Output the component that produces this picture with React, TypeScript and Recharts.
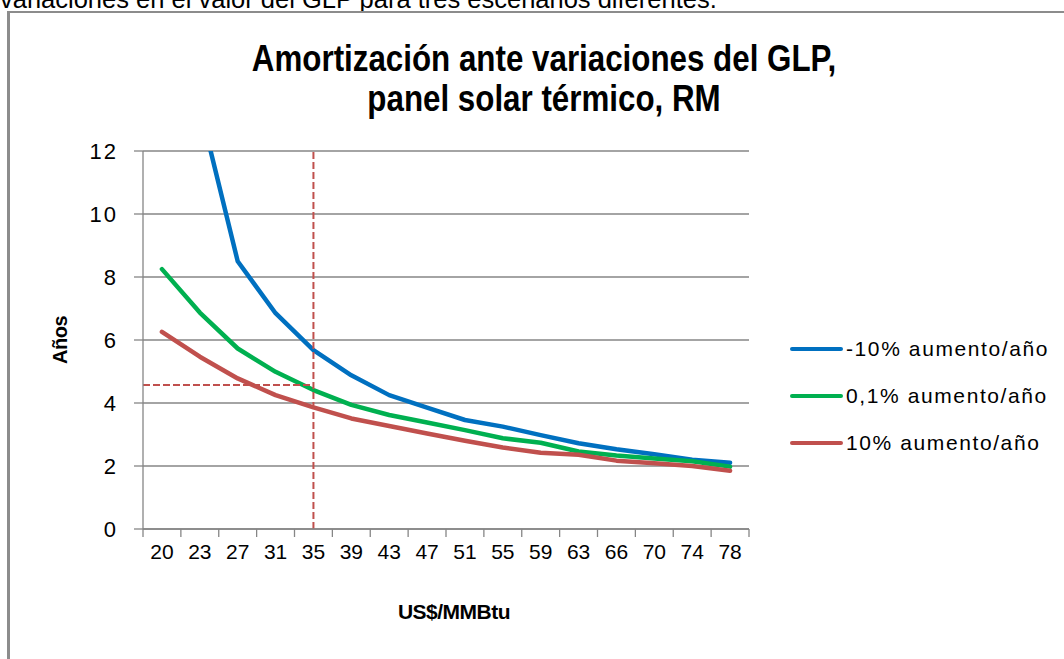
import React from 'react';
import { LineChart, Line, CartesianGrid, XAxis, YAxis, ReferenceLine, Legend } from 'recharts';

// gas price categories (US$/MMBtu)
const prices = ['20', '23', '27', '31', '35', '39', '43', '47', '51', '55', '59', '63', '66', '70', '74', '78'];
// payback years per scenario
const minus10 = [22, 13.4, 8.5, 6.85, 5.68, 4.88, 4.25, 3.85, 3.46, 3.25, 2.98, 2.72, 2.53, 2.37, 2.2, 2.1];
const plus01 = [8.25, 6.87, 5.73, 4.99, 4.41, 3.94, 3.62, 3.38, 3.14, 2.88, 2.74, 2.46, 2.33, 2.24, 2.15, 1.98];
const plus10 = [6.26, 5.47, 4.78, 4.25, 3.86, 3.51, 3.27, 3.03, 2.8, 2.59, 2.42, 2.36, 2.17, 2.09, 2.0, 1.85];
const yTicks = [0, 2, 4, 6, 8, 10, 12];
// dashed guide: price 35 -> 4.57 years
const markPrice = '35';
const markYears = 4.57;

const series = [
  { key: 'minus10', name: '-10% aumento/año', color: '#0070c0' },
  { key: 'plus01', name: '0,1% aumento/año', color: '#00b050' },
  { key: 'plus10', name: '10% aumento/año', color: '#c0504d' },
];

const data = prices.map((p, i) => ({
  price: p,
  idx: i + 0.5,
  minus10: minus10[i],
  plus01: plus01[i],
  plus10: plus10[i],
}));

const bounds = prices.map((_, i) => i).concat(prices.length);
const markIdx = prices.indexOf(markPrice) + 0.5;

const regular = "'Liberation Sans', Arial, sans-serif";
const gray = '#868686';

function LegendBox() {
  return (
    <div>
      {series.map(s => (
        <div key={s.key} style={{ display: 'flex', alignItems: 'center', height: 47 }}>
          <span style={{ display: 'inline-block', width: 53, height: 4, borderRadius: 2, background: s.color }} />
          <span style={{ marginLeft: 3, fontFamily: regular, fontSize: 21, letterSpacing: 1.6, color: '#000' }}>{s.name}</span>
        </div>
      ))}
    </div>
  );
}

export default function App() {
  return (
    <div style={{ position: 'fixed', left: 0, top: 0, width: 1064, height: 659, overflow: 'hidden', background: '#fff' }}>
      <div style={{ position: 'absolute', left: 0, top: -15, fontFamily: regular, fontSize: 25.5, whiteSpace: 'nowrap', lineHeight: '29px' }}>
        variaciones en el valor del GLP  para tres escenarios diferentes.
      </div>
      <div style={{ position: 'absolute', left: 7, top: 11, width: 1100, height: 700, borderLeft: '3px solid #8c8c8c', borderTop: '2px solid #8c8c8c' }} />
      <div style={{ position: 'absolute', left: 0, width: 1088, top: 39, textAlign: 'center', fontFamily: regular, fontWeight: 'bold', fontSize: 36, lineHeight: '40px', transform: 'scaleX(0.87)', transformOrigin: '544px 0' }}>
        Amortización ante variaciones del GLP,<br />panel solar térmico, RM
      </div>
      <div style={{ position: 'absolute', left: 0, top: 0 }}>
        <LineChart width={1064} height={659} data={data} margin={{ top: 151, right: 315, bottom: 35, left: 40 }}>
          <CartesianGrid xAxisId="bounds" vertical={false} stroke={gray} strokeWidth={1.3} />
          <XAxis xAxisId="bounds" type="number" dataKey="idx" domain={[0, prices.length]} ticks={bounds} allowDataOverflow
            tickFormatter={() => ''} tickSize={8} height={1}
            axisLine={{ stroke: gray, strokeWidth: 1.3 }} tickLine={{ stroke: gray, strokeWidth: 1.3 }} />
          <XAxis xAxisId="cat" dataKey="price" scale="band" height={94} tickLine={false} tickSize={7} tickMargin={7}
            axisLine={false}
            tick={{ fill: '#000', fontFamily: regular, fontSize: 21 }}
            label={{ value: 'US$/MMBtu', position: 'insideBottom', offset: 5, dx: 8, fill: '#000', fontFamily: regular, fontWeight: 'bold', fontSize: 21, letterSpacing: -0.5 }} />
          <YAxis type="number" domain={[0, 12]} ticks={yTicks} allowDataOverflow width={103}
            tickSize={9} tickMargin={16}
            axisLine={{ stroke: gray, strokeWidth: 1.3 }} tickLine={{ stroke: gray, strokeWidth: 1.3 }}
            tick={{ fill: '#000', fontFamily: regular, fontSize: 22, letterSpacing: 2 }}
            label={{ value: 'Años', angle: -90, position: 'insideLeft', offset: 20, fill: '#000', fontFamily: regular, fontWeight: 'bold', fontSize: 20, letterSpacing: -0.5, style: { textAnchor: 'middle' } }} />
          {series.map(s => (
            <Line key={s.key} xAxisId="cat" dataKey={s.key} name={s.name} stroke={s.color} strokeWidth={4.5} dot={false}
              type="linear" strokeLinejoin="round" strokeLinecap="round" isAnimationActive={false} />
          ))}
          <ReferenceLine xAxisId="bounds" x={markIdx} stroke="#c0504d" strokeWidth={2} strokeDasharray="7 3" />
          <ReferenceLine xAxisId="bounds" segment={[{ x: 0, y: markYears }, { x: markIdx, y: markYears }]}
            stroke="#c0504d" strokeWidth={2} strokeDasharray="7 3" />
          <Legend layout="vertical" align="center" verticalAlign="middle" content={() => <LegendBox />}
            wrapperStyle={{ left: 790, top: 325, width: 274 }} />
        </LineChart>
      </div>
    </div>
  );
}
